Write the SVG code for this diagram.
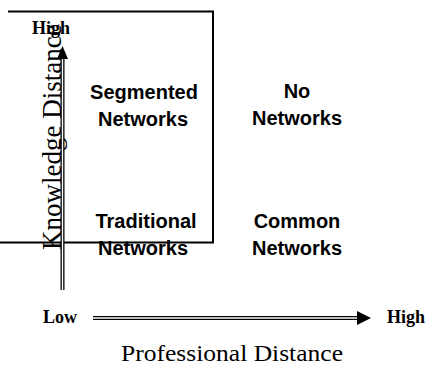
<svg xmlns="http://www.w3.org/2000/svg" width="427" height="366" viewBox="0 0 427 366">
<style>
.lbl{font-family:"Liberation Sans",Arial,sans-serif;font-weight:bold;font-size:20px;fill:#000;text-anchor:middle}
.ser{font-family:"Liberation Serif","Times New Roman",serif;fill:#000}
.axo{stroke:#000;stroke-width:4;fill:none}
.axi{stroke:#fff;stroke-width:1.4;fill:none}
</style>
<rect width="427" height="366" fill="#fff"/>
<g id="frame"><path d="M8,11.5 H213 V242.5 H0" fill="none" stroke="#000" stroke-width="2"/></g>
<g id="ylabel"><text class="ser" font-size="27" transform="translate(61,250) rotate(-90)">Knowledge Distance</text></g>
<g id="connectors">
<line class="axo" x1="62.5" y1="57" x2="62.5" y2="290"/>
<line class="axi" x1="62.5" y1="58" x2="62.5" y2="290"/>
<polygon points="62.5,46 57,59 68,59" fill="#000"/>
<line class="axo" x1="93" y1="318" x2="358" y2="318"/>
<line class="axi" x1="93" y1="318" x2="357" y2="318"/>
<polygon points="371,318 357,311 357,325" fill="#000"/>
</g>
<g id="yhigh"><text class="ser" font-size="18" font-weight="bold" x="32" y="34">High</text></g>
<g id="segmented"><text class="lbl" x="144" y="99">Segmented</text><text class="lbl" x="143" y="126">Networks</text></g>
<g id="none"><text class="lbl" x="297" y="98">No</text><text class="lbl" x="297" y="125">Networks</text></g>
<g id="traditional"><text class="lbl" x="146" y="228">Traditional</text><text class="lbl" x="143" y="255">Networks</text></g>
<g id="common"><text class="lbl" x="297" y="228">Common</text><text class="lbl" x="297" y="255">Networks</text></g>
<g id="xlow"><text class="ser" font-size="18" font-weight="bold" x="43" y="323">Low</text></g>
<g id="xhigh"><text class="ser" font-size="18" font-weight="bold" x="387" y="323">High</text></g>
<g id="xlabel"><text class="ser" font-size="23" x="121" y="361" textLength="222" lengthAdjust="spacingAndGlyphs">Professional Distance</text></g>
</svg>
